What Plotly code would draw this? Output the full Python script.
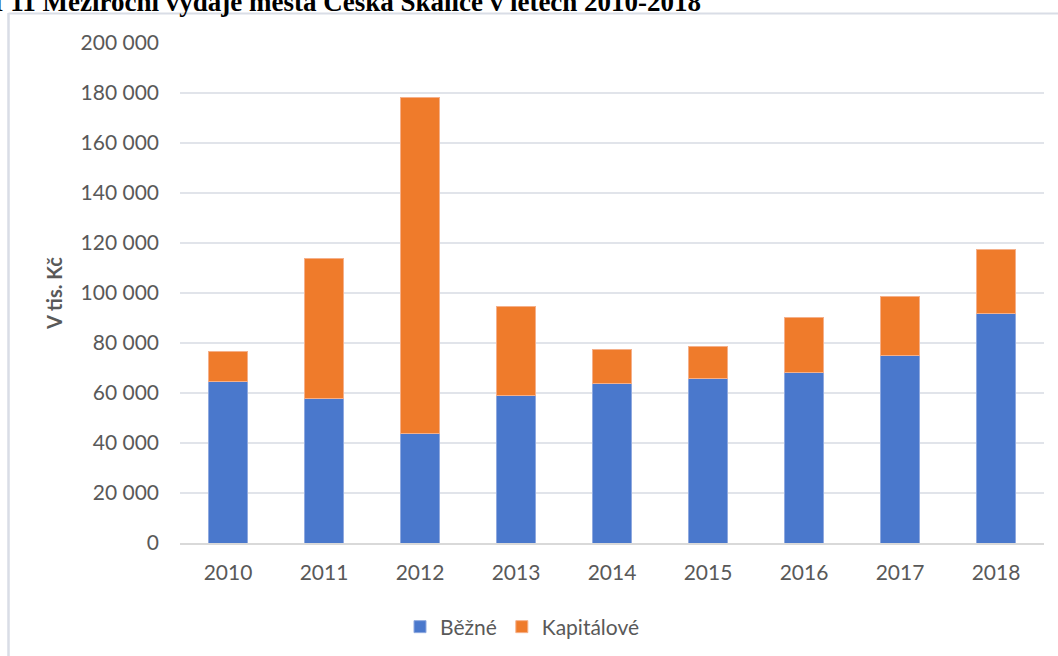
import plotly.graph_objects as go

years = ["2010", "2011", "2012", "2013", "2014", "2015", "2016", "2017", "2018"]
bezne = [64800, 58000, 43700, 59200, 63800, 65800, 68400, 75100, 91900]
kapitalove = [12000, 56000, 134700, 35300, 13800, 12900, 22000, 23600, 25700]
yticks = [0, 20000, 40000, 60000, 80000, 100000, 120000, 140000, 160000, 180000, 200000]
ytick_labels = ["0", "20 000", "40 000", "60 000", "80 000", "100 000", "120 000",
                "140 000", "160 000", "180 000", "200 000"]

W, H = 1058, 656
L, R, T, B = 180, 14, 43, 113
PW, PH = W - L - R, H - T - B

def px(x):
    return (x - L) / PW

def py(y):
    return (H - B - y) / PH

FONT = "Lato"
GRAY = "#595959"

fig = go.Figure()
fig.add_trace(go.Bar(x=years, y=bezne, name="Běžné",
                     marker=dict(color="#4a78cc", line=dict(color="#8fa9df", width=1))))
fig.add_trace(go.Bar(x=years, y=kapitalove, name="Kapitálové",
                     marker=dict(color="#ef7b2b", line=dict(color="#f5b08a", width=1))))

fig.update_layout(
    barmode="stack",
    bargap=0.6,
    width=W, height=H,
    margin=dict(l=L, r=R, t=T, b=B, autoexpand=False),
    paper_bgcolor="white",
    plot_bgcolor="white",
    font=dict(family=FONT, size=21, color=GRAY),
    showlegend=True,
    legend=dict(orientation="h", x=px(400), xanchor="left", y=py(627), yanchor="middle",
                font=dict(family=FONT, size=21, color=GRAY), itemwidth=30,
                traceorder="normal"),
    xaxis=dict(showgrid=False, showline=True, linecolor="#d9d9d9", linewidth=1.5,
               ticks="", tickfont=dict(family=FONT, size=21, color=GRAY),
               ticklabelstandoff=10),
    yaxis=dict(range=[0, 200000], tickvals=yticks, ticktext=ytick_labels,
               showgrid=True, gridcolor="#e1e4ea", gridwidth=1.5, zeroline=False,
               showline=False, ticks="",
               tickfont=dict(family=FONT, size=21, color=GRAY),
               ticklabelstandoff=20,
               title=dict(text="<b>V tis. Kč</b>", font=dict(family=FONT, size=20, color=GRAY),
                          standoff=12)),
    shapes=[
        dict(type="line", xref="paper", yref="paper", x0=px(8.5), x1=px(W + 5),
             y0=py(13.5), y1=py(13.5), line=dict(color="#d9dde6", width=2)),
        dict(type="line", xref="paper", yref="paper", x0=px(8.5), x1=px(8.5),
             y0=py(13), y1=py(H + 5), line=dict(color="#d9dde6", width=2.5)),
    ],
    annotations=[
        dict(text="<b>Graf 11 Meziroční výdaje města Česká Skalice v letech 2010-2018</b>",
             xref="paper", yref="paper", x=px(703), xanchor="right",
             y=py(19), yanchor="bottom", showarrow=False,
             font=dict(family="Liberation Serif", size=27, color="black")),
    ],
)

fig.write_html("out.html", config={"displayModeBar": False},
               post_script="document.body.style.margin='0';document.body.style.overflow='hidden';")
